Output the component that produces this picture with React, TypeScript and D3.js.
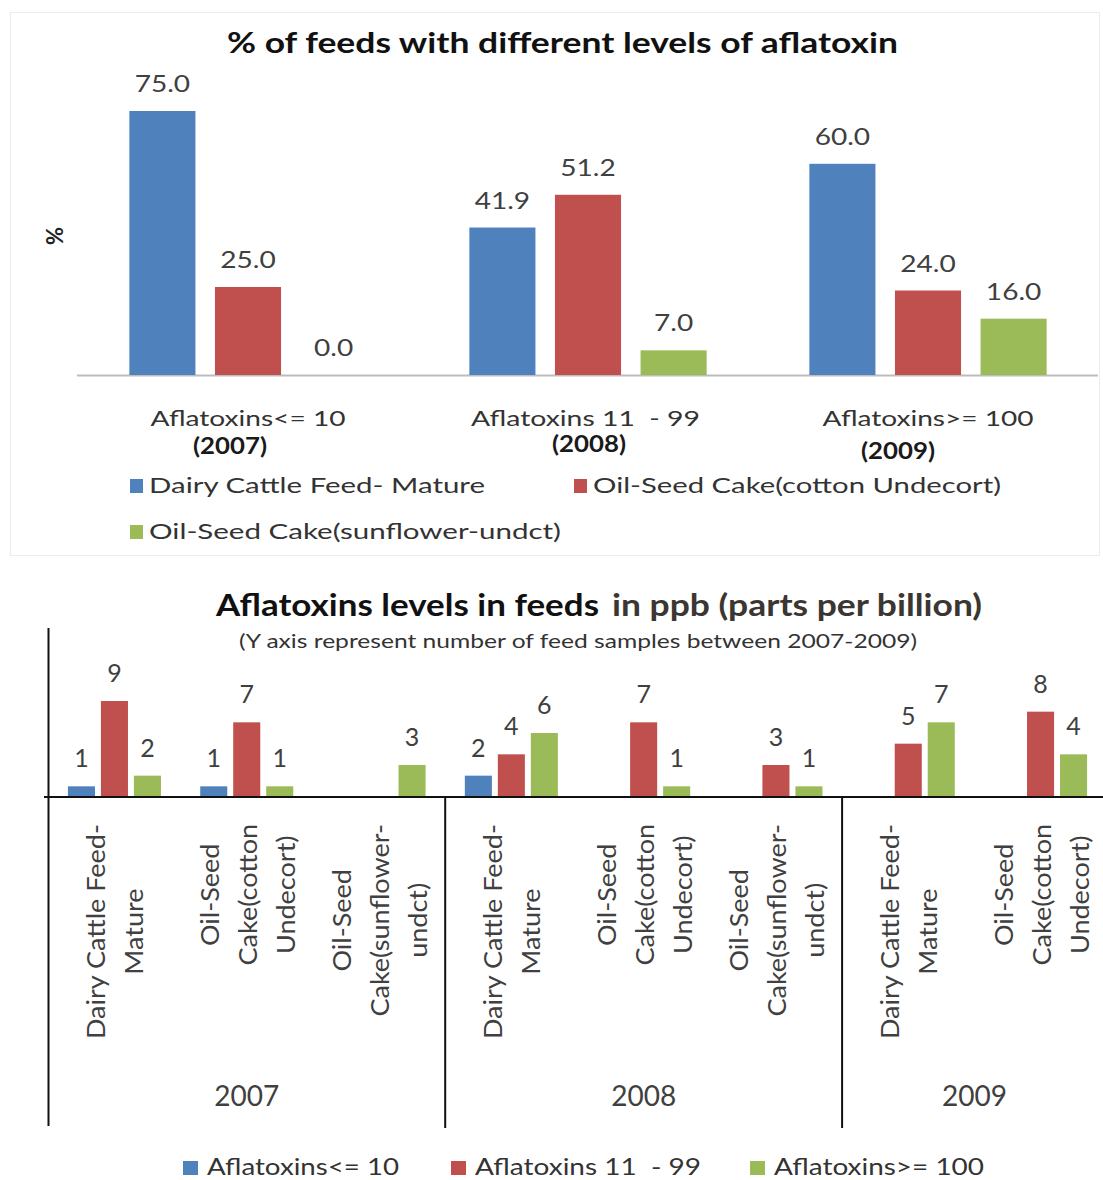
import React, { useEffect, useRef } from 'react';
import * as d3 from 'd3';

// ---------- Top chart data ----------
const topGroups = ['Aflatoxins<= 10', 'Aflatoxins 11  - 99', 'Aflatoxins>= 100'];
const topYears = ['(2007)', '(2008)', '(2009)'];
const topSeries = ['Dairy Cattle Feed- Mature', 'Oil-Seed Cake(cotton Undecort)', 'Oil-Seed Cake(sunflower-undct)'];
const topDairy = [75.0, 41.9, 60.0];
const topCotton = [25.0, 51.2, 24.0];
const topSunflower = [0.0, 7.0, 16.0];

// ---------- Bottom chart data ----------
const bottomCategories = [
  ['Dairy Cattle Feed-', 'Mature'],
  ['Oil-Seed', 'Cake(cotton', 'Undecort)'],
  ['Oil-Seed', 'Cake(sunflower-', 'undct)'],
  ['Dairy Cattle Feed-', 'Mature'],
  ['Oil-Seed', 'Cake(cotton', 'Undecort)'],
  ['Oil-Seed', 'Cake(sunflower-', 'undct)'],
  ['Dairy Cattle Feed-', 'Mature'],
  ['Oil-Seed', 'Cake(cotton', 'Undecort)'],
];
const bottomYears = ['2007', '2008', '2009'];
const bottomYearCounts = [3, 3, 2];
const bottomSeries = ['Aflatoxins<= 10', 'Aflatoxins 11  - 99', 'Aflatoxins>= 100'];
const bottomLow: (number | null)[] = [1, 1, null, 2, null, null, null, null];
const bottomMid: (number | null)[] = [9, 7, null, 4, 7, 3, 5, 8];
const bottomHigh: (number | null)[] = [2, 1, 3, 6, 1, 1, 7, 4];

const COLORS = ['#4F81BD', '#C0504D', '#9BBB59'];
const FONT = 'Lato, "Open Sans", sans-serif';

function stretch(sel: any, k: number) {
  sel.each(function (this: SVGTextElement) {
    const w = this.getComputedTextLength();
    if (w > 0) {
      d3.select(this).attr('textLength', w * k).attr('lengthAdjust', 'spacingAndGlyphs');
    }
  });
}

export default function App() {
  const ref = useRef<SVGSVGElement>(null);

  useEffect(() => {
    const svg = d3.select(ref.current);
    svg.selectAll('*').remove();

    svg.append('rect').attr('x', 0).attr('y', 0).attr('width', 1103).attr('height', 1180).attr('fill', '#ffffff');

    // ================= TOP CHART =================
    const top = svg.append('g');
    top.append('rect').attr('x', 10.5).attr('y', 12.5).attr('width', 1089).attr('height', 543)
      .attr('fill', 'none').attr('stroke', '#ececec');

    top.append('text').attr('x', 562.5).attr('y', 53).attr('text-anchor', 'middle')
      .attr('font-family', FONT).attr('font-weight', 700).attr('font-size', 29).attr('fill', '#111')
      .attr('textLength', 671).attr('lengthAdjust', 'spacingAndGlyphs')
      .text('% of feeds with different levels of aflatoxin');

    top.append('text').attr('transform', 'translate(54,236) rotate(-90)')
      .attr('text-anchor', 'middle').attr('dominant-baseline', 'central')
      .attr('font-family', FONT).attr('font-weight', 700).attr('font-size', 22).attr('fill', '#222')
      .text('%');

    const topSeriesVals = [topDairy, topCotton, topSunflower];
    const x0 = d3.scaleBand<string>().domain(topGroups).range([78, 1098]);
    const x1 = d3.scaleBand<number>().domain([0, 1, 2]).range([0, x0.bandwidth()])
      .paddingInner(0.228).paddingOuter(0.6);
    const yTop = d3.scaleLinear().domain([0, 75]).range([375, 111]);

    top.append('line').attr('x1', 77).attr('x2', 1098).attr('y1', 375.5).attr('y2', 375.5)
      .attr('stroke', '#bdbdbd').attr('stroke-width', 2);

    const topLabels: any[] = [];
    topSeriesVals.forEach((vals, si) => {
      vals.forEach((v, gi) => {
        const bx = (x0(topGroups[gi]) as number) + (x1(si) as number);
        top.append('rect').attr('x', bx).attr('y', yTop(v)).attr('width', x1.bandwidth())
          .attr('height', yTop(0) - yTop(v)).attr('fill', COLORS[si]);
        const t = top.append('text').attr('x', bx + x1.bandwidth() / 2).attr('y', yTop(v) - 19)
          .attr('text-anchor', 'middle').attr('font-family', FONT).attr('font-size', 23)
          .attr('fill', '#404040').text(v.toFixed(1));
        topLabels.push(t);
      });
    });
    topLabels.forEach((t) => stretch(t, 1.22));

    const catWidths = [195, 229, 211];
    const catDx = [0, -2.5, 0];
    topGroups.forEach((g, gi) => {
      const cx = (x0(g) as number) + x0.bandwidth() / 2;
      top.append('text').attr('x', cx + catDx[gi]).attr('y', 426).attr('text-anchor', 'middle')
        .attr('font-family', FONT).attr('font-size', 21).attr('fill', '#333')
        .style('white-space', 'pre')
        .attr('textLength', catWidths[gi]).attr('lengthAdjust', 'spacingAndGlyphs')
        .text(g);
    });
    const yearDx = [-18, 1, -30];
    const yearY = [454, 452, 459];
    topYears.forEach((yr, gi) => {
      const cx = (x0(topGroups[gi]) as number) + x0.bandwidth() / 2;
      top.append('text').attr('x', cx + yearDx[gi]).attr('y', yearY[gi]).attr('text-anchor', 'middle')
        .attr('font-family', FONT).attr('font-weight', 700).attr('font-size', 22).attr('fill', '#1a1a1a')
        .attr('textLength', 74).attr('lengthAdjust', 'spacingAndGlyphs')
        .text(yr);
    });

    const legTop = [
      { x: 130, y: 479, w: 336 },
      { x: 574, y: 479, w: 408 },
      { x: 130, y: 525, w: 412 },
    ];
    topSeries.forEach((s, si) => {
      const p = legTop[si];
      top.append('rect').attr('x', p.x).attr('y', p.y).attr('width', 13).attr('height', 14).attr('fill', COLORS[si]);
      top.append('text').attr('x', p.x + 19).attr('y', p.y + 14).attr('font-family', FONT)
        .attr('font-size', 22).attr('fill', '#333')
        .attr('textLength', p.w).attr('lengthAdjust', 'spacingAndGlyphs').text(s);
    });

    // ================= BOTTOM CHART =================
    const bot = svg.append('g');
    bot.append('text').attr('x', 216).attr('y', 616).attr('font-family', FONT).attr('font-weight', 700)
      .attr('font-size', 30).attr('fill', '#111').attr('textLength', 383).attr('lengthAdjust', 'spacingAndGlyphs')
      .text('Aflatoxins levels in feeds');
    bot.append('text').attr('x', 612).attr('y', 616).attr('font-family', FONT).attr('font-weight', 700)
      .attr('font-size', 30).attr('fill', '#3b3632').attr('textLength', 370).attr('lengthAdjust', 'spacingAndGlyphs')
      .text('in ppb (parts per billion)');
    bot.append('text').attr('x', 239).attr('y', 648).attr('font-family', FONT)
      .attr('font-size', 20).attr('fill', '#333').attr('textLength', 678).attr('lengthAdjust', 'spacingAndGlyphs')
      .text('(Y axis represent number of feed samples between 2007-2009)');

    const catIdx = bottomCategories.map((_, i) => i);
    const xb = d3.scaleBand<number>().domain(catIdx).range([48.3, 1106.7]);
    const xbi = d3.scaleBand<number>().domain([0, 1, 2]).range([0, xb.bandwidth()])
      .paddingInner(0.18).paddingOuter(0.595);
    const yBot = d3.scaleLinear().domain([0, 9]).range([797, 701]);

    const botVals = [bottomLow, bottomMid, bottomHigh];
    botVals.forEach((vals, si) => {
      vals.forEach((v, ci) => {
        if (v === null) return;
        const bx = (xb(ci) as number) + (xbi(si) as number);
        bot.append('rect').attr('x', bx).attr('y', yBot(v)).attr('width', xbi.bandwidth())
          .attr('height', yBot(0) - yBot(v)).attr('fill', COLORS[si]);
        bot.append('text').attr('x', bx + xbi.bandwidth() / 2).attr('y', yBot(v) - 19)
          .attr('text-anchor', 'middle').attr('font-family', FONT).attr('font-size', 25)
          .attr('fill', '#404040').text(String(v));
      });
    });

    // axes
    bot.append('line').attr('x1', 48.5).attr('x2', 48.5).attr('y1', 628).attr('y2', 1126)
      .attr('stroke', '#111').attr('stroke-width', 2);
    bot.append('line').attr('x1', 44).attr('x2', 1103).attr('y1', 797).attr('y2', 797)
      .attr('stroke', '#111').attr('stroke-width', 2);
    let acc = 0;
    bottomYearCounts.forEach((n, yi) => {
      const start = xb(acc) as number;
      const end = start + n * xb.step();
      if (yi > 0) {
        bot.append('line').attr('x1', start).attr('x2', start).attr('y1', 797).attr('y2', 1128)
          .attr('stroke', '#111').attr('stroke-width', 2);
      }
      bot.append('text').attr('x', (start + end) / 2).attr('y', 1106).attr('text-anchor', 'middle')
        .attr('font-family', FONT).attr('font-size', 28).attr('fill', '#404040').text(bottomYears[yi]);
      acc += n;
    });

    // rotated category labels
    const LH = 38;
    bottomCategories.forEach((lines, ci) => {
      const cx = (xb(ci) as number) + xb.bandwidth() / 2;
      const g = bot.append('g');
      const nodes = lines.map((ln, li) => {
        const lx = cx + (li - (lines.length - 1) / 2) * LH + 10;
        return g.append('text').attr('data-x', lx).attr('text-anchor', 'middle')
          .attr('font-family', FONT).attr('font-size', 25).attr('fill', '#404040').text(ln);
      });
      nodes.forEach((n: any) => stretch(n, 1.08));
      const maxLen = d3.max(nodes, (n: any) => +n.attr('textLength')) || 0;
      const yc = 824 + maxLen / 2;
      nodes.forEach((n: any) => {
        n.attr('transform', `translate(${n.attr('data-x')},${yc}) rotate(-90)`);
      });
    });

    // bottom legend
    const legBot = [
      { x: 183, w: 192 },
      { x: 451, w: 226 },
      { x: 750, w: 210 },
    ];
    bottomSeries.forEach((s, si) => {
      const p = legBot[si];
      bot.append('rect').attr('x', p.x).attr('y', 1161).attr('width', 15).attr('height', 14).attr('fill', COLORS[si]);
      bot.append('text').attr('x', p.x + 24).attr('y', 1175).attr('font-family', FONT)
        .attr('font-size', 23).attr('fill', '#333').style('white-space', 'pre')
        .attr('textLength', p.w).attr('lengthAdjust', 'spacingAndGlyphs').text(s);
    });
  }, []);

  return (
    <svg ref={ref} width={1103} height={1180}
      style={{ position: 'absolute', left: 0, top: 0, display: 'block' }} />
  );
}
